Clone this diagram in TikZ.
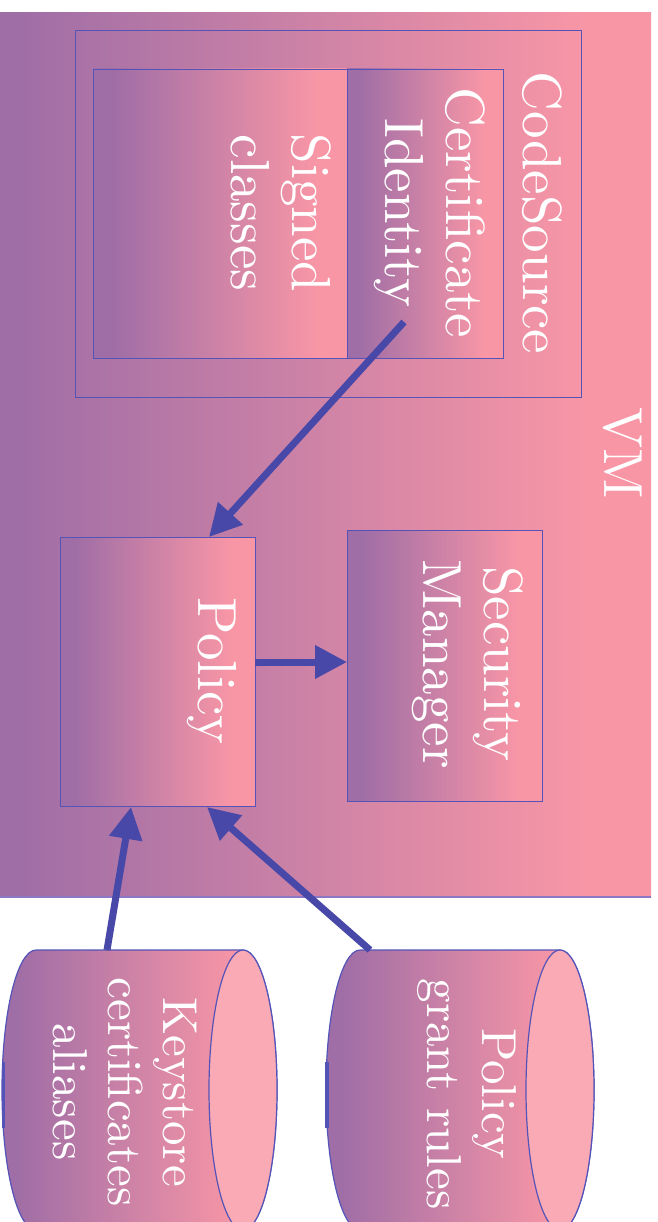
\documentclass[tikz,border=0pt]{standalone}
\usepackage{fontspec}
\setmainfont{lmroman10-regular.otf}
\usetikzlibrary{arrows.meta,calc}
\definecolor{pur}{RGB}{160,110,166}
\definecolor{pnk}{RGB}{248,150,166}
\definecolor{edgec}{RGB}{84,84,184}
\definecolor{vmedge}{RGB}{140,120,196}
\definecolor{arrc}{RGB}{72,72,168}
\definecolor{facec}{RGB}{250,170,180}
\pgfdeclarehorizontalshading{vmgrad}{100bp}{color(0bp)=(pur); color(27bp)=(pur); color(70bp)=(pnk); color(100bp)=(pnk)}
\pgfdeclarehorizontalshading{boxgrad}{100bp}{color(0bp)=(pur); color(29bp)=(pur); color(69bp)=(pnk); color(100bp)=(pnk)}
\pgfdeclarehorizontalshading{cylgrad}{100bp}{color(0bp)=(pur); color(28bp)=(pur); color(68bp)=(pnk); color(100bp)=(pnk)}
\newcommand{\drawcyl}[2]{%
  \shade[shading=cylgrad, draw=edgec, line width=1.2pt]
    (#1,950) -- (#2,950)
    arc[start angle=90, end angle=-90, x radius=34pt, y radius=140pt]
    -- (#1,1230)
    arc[start angle=-90, end angle=-270, x radius=34pt, y radius=140pt]
    -- cycle;
  \filldraw[fill=facec, draw=edgec, line width=1.2pt] (#2,1090) ellipse[x radius=34pt, y radius=140pt];
}
\begin{document}
\begin{tikzpicture}[x=1pt,y=-1pt,
  box/.style={draw=edgec, line width=0.9pt, shading=boxgrad, inner sep=0pt, outer sep=0pt, anchor=north west},
  frame/.style={draw=edgec, line width=0.9pt, inner sep=0pt, outer sep=0pt, anchor=north west},
  lbl/.style={text=white, rotate=-90, align=center, inner sep=0pt, font=\fontsize{55}{61}\selectfont},
  clbl/.style={lbl, font=\fontsize{49}{55}\selectfont},
  conn/.style={draw=arrc, line width=7pt, -{Triangle[length=32pt,width=32pt]}}
]
\useasboundingbox (0,0) rectangle (657,1222);
\fill[white] (0,0) rectangle (657,1222);

% VM area
\node[inner sep=0pt, outer sep=0pt, anchor=north west, shading=vmgrad, minimum width=656pt, minimum height=884pt] (vm) at (-5,13) {};
\draw[vmedge, line width=1.5pt] (vm.south west) -- (vm.south east);

% CodeSource
\node[frame, minimum width=506pt, minimum height=367pt] (cs) at (75,30) {};
\node[box, minimum width=254pt, minimum height=289pt] (signed) at (93,69) {};
\node[box, minimum width=156pt, minimum height=289pt] (cert) at (347,69) {};

% Policy and Security Manager
\node[box, minimum width=195pt, minimum height=269pt] (policy) at (60,537) {};
\node[box, minimum width=195pt, minimum height=271pt] (sm) at (347,530) {};

% Cylinders
\drawcyl{36}{243}
\drawcyl{360}{560}
\draw[edgec, line width=3pt] (3,1062) -- (3,1128);
\draw[edgec, line width=4pt] (327,1062) -- (327,1128);
\coordinate (kstop) at (107,950);
\coordinate (pgtop) at (370,950);

% Labels
\node[lbl] (tcs) at (542,213) {CodeSource};
\node[lbl] (tcert) at (430,213) {Certificate\\Identity};
\node[lbl] (tsig) at (281,213) {Signed\\classes};
\node[lbl] (tvm) at (623,453) {VM};
\node[lbl] (tpol) at (212,671) {Policy};
\node[lbl] (tsm) at (468,664) {Security\\Manager};
\node[clbl] (tks) at (125,1092) {Keystore\\certificates\\aliases};
\node[clbl] (tpg) at (467,1094) {Policy\\grant rules};

% Connectors
\draw[conn] ($(cert.north west)+(57,253)$) -- ($(policy.north west)+(149,0)$);
\draw[conn] ($(policy.east)+(0,-9.5)$) -- ($(sm.west)+(0,-3.5)$);
\draw[conn] (kstop) -- ($(policy.south west)+(71,1)$);
\draw[conn] (pgtop) -- ($(policy.south west)+(147,1)$);
\end{tikzpicture}
\end{document}
